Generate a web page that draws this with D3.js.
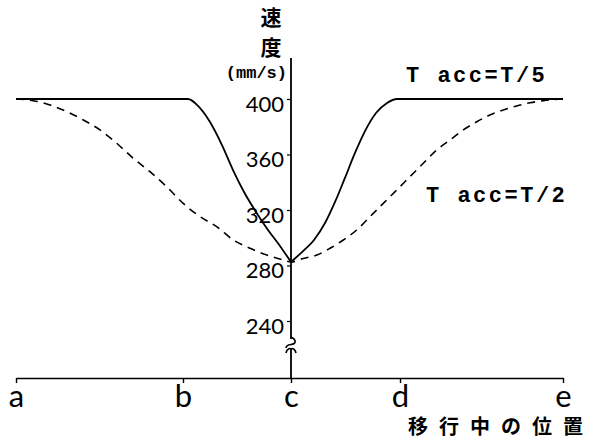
<!DOCTYPE html>
<html>
<head>
<meta charset="utf-8">
<script src="https://cdn.jsdelivr.net/npm/d3@7"></script>
<style>
  body { margin: 0; background: #fff; }
  svg { display: block; }
  .tick text { font-family: Lato, "Liberation Sans", sans-serif; font-weight: 400; }
</style>
</head>
<body>
<svg id="chart" width="605" height="440"></svg>
<script>
// positions along the transfer path (a..e) and speed ticks
const positions = ["a", "b", "c", "d", "e"];
const speedTicks = [240, 280, 320, 360, 400];

// Tacc = T/5 (solid); x in position units, a=0 ... e=4
const fastX = [0, 1.046, 1.139, 1.25, 1.361, 1.463, 1.565, 1.676, 1.787, 1.898, 2,
               2.101, 2.211, 2.312, 2.404, 2.495, 2.587, 2.679, 2.78, 2.881, 2.972, 4];
const fastV = [400, 400, 395, 383.4, 366.8, 348.8, 333, 318.6, 305.6, 294.1, 282.5,
               289.7, 298.4, 310.6, 325.8, 343.1, 361.1, 376.9, 389.9, 397.1, 400, 400];

// Tacc = T/2 (dashed)
const slowX = [0, 0.104, 0.204, 0.304, 0.403, 0.503, 0.603, 0.702, 0.802, 0.902, 1.002,
               1.157, 1.312, 1.466, 1.62, 1.775, 1.929, 2,
               2.113, 2.236, 2.358, 2.48, 2.603, 2.725, 2.847, 2.97,
               3.061, 3.143, 3.225, 3.307, 3.388, 3.471, 3.552, 3.634, 3.716, 3.798, 3.88, 4];
const slowV = [400, 398.8, 395.7, 390.9, 384.9, 377.7, 368.1, 357.3, 347.6, 336.8, 324.8,
               315.2, 308, 298.4, 292.4, 287.6, 284, 282.5,
               285.1, 287.5, 292.4, 298.4, 305.6, 315.2, 324.8, 334.4,
               344, 353.7, 363.2, 370.5, 377.7, 383.6, 388.5, 392.1, 395, 397.3, 398.8, 400];

const svg = d3.select("#chart");

// hand-drawn axis: position marks are not evenly spaced
const x = d3.scaleLinear().domain([0, 1, 2, 3, 4]).range([16, 183, 291, 400, 563]);
const y = d3.scaleLinear().domain([240, 400]).range([321, 99]);
const axisY = 378;
const cx = x(2);

// x axis
const gx = svg.append("g")
    .attr("transform", `translate(0,${axisY})`)
    .call(d3.axisBottom(x)
      .tickValues(d3.range(positions.length))
      .tickFormat(i => positions[i])
      .tickSize(5)
      .tickSizeOuter(0)
      .tickPadding(3));
gx.select(".domain").attr("stroke-width", 1.6);
gx.selectAll(".tick line").attr("stroke-width", 1.4);
gx.selectAll(".tick text")
    .attr("font-size", 31)
    .attr("font-weight", 300)
    .attr("dy", "0.68em")
    .attr("fill", "#000");

// y axis (ticks only, line drawn with a break)
const gy = svg.append("g")
    .attr("transform", `translate(${cx},0)`)
    .call(d3.axisLeft(y).tickValues(speedTicks).tickSize(4).tickPadding(3));
gy.select(".domain").remove();
gy.selectAll(".tick line").attr("stroke-width", 1.2);
gy.selectAll(".tick text")
    .attr("font-size", 22)
    .attr("dy", "0.55em")
    .attr("fill", "#000");

svg.append("line")
    .attr("x1", cx).attr("x2", cx)
    .attr("y1", 58).attr("y2", 339)
    .attr("stroke", "#000").attr("stroke-width", 1.8);
svg.append("path")
    .attr("d", `M${cx},337 C${cx + 6},340 ${cx + 5},344 ${cx},344.5 C${cx - 4},345 ${cx - 5},346 ${cx - 5},348`)
    .attr("fill", "none").attr("stroke", "#000").attr("stroke-width", 1.6);
svg.append("path")
    .attr("d", `M${cx - 5},353 C${cx - 4},348 ${cx},347.5 ${cx},350 C${cx},347.5 ${cx + 4},348 ${cx + 5},353`)
    .attr("fill", "none").attr("stroke", "#000").attr("stroke-width", 1.6);
svg.append("line")
    .attr("x1", cx).attr("x2", cx)
    .attr("y1", 349).attr("y2", axisY)
    .attr("stroke", "#000").attr("stroke-width", 1.8);

// curves
const mono = d3.line().x(d => x(d[0])).y(d => y(d[1])).curve(d3.curveMonotoneX);
const fast = fastX.map((v, i) => [v, fastV[i]]);
const slow = slowX.map((v, i) => [v, slowV[i]]);
const cusp = fastX.indexOf(2);

svg.append("path")
    .attr("d", mono(slow))
    .attr("fill", "none").attr("stroke", "#000")
    .attr("stroke-width", 1.6).attr("stroke-dasharray", "8,6");

// solid curve has a sharp turn at c, so draw both halves separately
[fast.slice(0, cusp + 1), fast.slice(cusp)].forEach(part => {
  svg.append("path")
      .attr("d", mono(part))
      .attr("fill", "none").attr("stroke", "#000")
      .attr("stroke-width", 1.8);
});

// labels
const labelFont = "'Liberation Mono', 'DejaVu Sans Mono', monospace";
svg.append("text")
    .attr("x", 406).attr("y", 82)
    .attr("font-family", labelFont).attr("font-weight", "bold")
    .attr("font-size", 22).attr("letter-spacing", 2.5)
    .text("T acc=T/5");
svg.append("text")
    .attr("x", 426).attr("y", 202)
    .attr("font-family", labelFont).attr("font-weight", "bold")
    .attr("font-size", 22).attr("letter-spacing", 2.5)
    .text("T acc=T/2");

const cjk = "'Noto Sans CJK JP', 'Noto Sans CJK SC', sans-serif";
svg.append("text")
    .attr("x", 271).attr("y", 25)
    .attr("text-anchor", "middle")
    .attr("font-family", cjk).attr("font-weight", "bold").attr("font-size", 21)
    .text("速");
svg.append("text")
    .attr("x", 271).attr("y", 55)
    .attr("text-anchor", "middle")
    .attr("font-family", cjk).attr("font-weight", "bold").attr("font-size", 21)
    .text("度");
svg.append("text")
    .attr("x", 287).attr("y", 78)
    .attr("text-anchor", "end")
    .attr("font-family", labelFont).attr("font-weight", "bold").attr("font-size", 17)
    .text("(mm/s)");

svg.append("text")
    .attr("x", 408).attr("y", 434)
    .attr("font-family", cjk).attr("font-weight", "bold")
    .attr("font-size", 20).attr("letter-spacing", 11)
    .text("移行中の位置");
</script>
</body>
</html>
